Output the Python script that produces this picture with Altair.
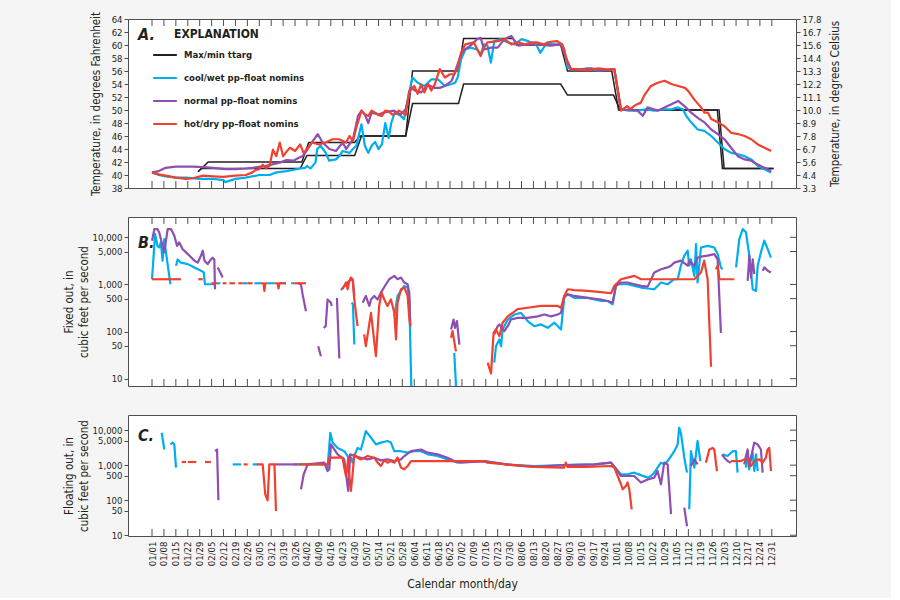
import altair as alt
import pandas as pd

FONT = "DejaVu Sans Condensed, Liberation Sans, sans-serif"
SERIES = ["Max/min ttarg", "cool/wet pp\u2013float nomins", "normal pp\u2013float nomins", "hot/dry pp\u2013float nomins"]
COLORS = ["#231f20", "#00aeef", "#8e4fb0", "#f0402f"]
TICK_DAYS = list(range(0, 365, 7))          # weekly ticks, 01/01 .. 12/31
TEMP_TICKS = list(range(38, 65, 2))
FLOW_TICKS = [10, 50, 100, 500, 1000, 5000, 10000]

# ---------------- Panel A: temperature (day of year, deg F) ----------------
TARGET_MAX = [(27, 40.5), (33, 42), (88, 42), (92, 45), (119, 45), (122, 46), (149, 46), (153, 56),
              (180, 56), (183, 61), (212, 61), (214, 60), (240, 60), (244, 56), (270, 56), (274, 50),
              (332, 50), (335, 41), (365, 41)]
TARGET_MIN = [(27, 40.5), (29, 41), (87, 41), (91, 43), (119, 43), (123, 46), (149, 46), (153, 51),
              (180, 51), (183, 54), (240, 54), (244, 52.3), (271, 52.3), (275, 50), (333, 50),
              (336, 41), (365, 41)]
COOL_A = [(0, 40.4), (4, 40.0), (8, 39.8), (14, 39.6), (20, 39.6), (28, 39.4), (36, 39.4), (42, 39.2),
          (43, 38.9), (49, 39.4), (55, 39.6), (63, 40.0), (69, 40.0), (73, 40.4), (79, 40.6), (87, 41.0),
          (90, 41.1), (91, 41.4), (93, 41.0), (96, 41.9), (97, 44.0), (99, 44.5), (102, 43.4), (104, 42.2),
          (108, 42.4), (110, 42.9), (112, 43.7), (116, 43.4), (118, 44.0), (120, 44.5), (123, 47.8),
          (125, 44.5), (127, 43.4), (129, 44.5), (131, 45.1), (133, 44.0), (135, 44.7), (137, 48.0),
          (139, 45.7), (140.5, 48.0), (142.5, 49.6), (146, 49.1), (148, 48.6), (151, 52.7), (153, 55.0),
          (156, 54.2), (160, 53.7), (164, 54.7), (168, 54.7), (172, 53.7), (176, 54.0), (178, 54.2),
          (179.5, 55.0), (181.5, 57.8), (184, 59.3), (187, 59.6), (191, 59.3), (193, 58.6), (195, 60.1),
          (197, 59.9), (199, 57.3), (201, 60.6), (205, 60.9), (209, 60.4), (213, 60.1), (217, 60.9),
          (221, 60.6), (226, 59.9), (228, 58.8), (232, 60.4), (236, 60.1), (240, 60.1), (242, 59.5),
          (244, 56.5), (246, 56.3), (250, 56.2), (256, 56.4), (262, 56.1), (268, 56.2), (271.5, 56.3),
          (275.4, 50.1), (280, 49.9), (285, 49.9), (290, 50.1), (295, 49.9), (301, 50.1), (305, 50.1),
          (308.8, 50.4), (311.7, 50.1), (313.7, 49.1), (316.6, 48.1), (320.5, 47.0), (324.4, 46.8),
          (328.4, 46.0), (332.3, 45.0), (336.2, 44.0), (340.1, 43.4), (344, 43.2), (348, 42.9),
          (351.9, 42.4), (355.8, 41.4), (359.7, 40.9), (363.6, 40.4)]
NORMAL_A = [(0, 40.4), (4, 40.6), (8, 41.1), (14, 41.3), (20, 41.3), (24, 41.3), (30, 41.2), (36, 41.1),
            (43, 40.9), (49, 40.9), (55, 41.0), (59, 41.1), (67, 41.4), (75, 41.9), (79, 42.3), (83, 42.2),
            (86.5, 42.7), (88.5, 42.9), (91.5, 44.0), (94.4, 45.2), (97.3, 46.3), (100.2, 45.0),
            (104.2, 44.0), (108, 43.7), (112, 45.0), (114, 44.0), (118, 45.5), (121, 49.1), (123, 49.9),
            (125, 49.3), (127, 48.0), (129, 49.6), (133, 49.3), (136, 49.6), (142, 49.9), (146, 49.3),
            (149, 50.1), (152, 53.4), (155, 52.9), (158, 52.7), (162, 53.9), (166, 53.4), (169, 53.4),
            (172, 53.7), (176, 54.5), (178.5, 56.3), (181.5, 58.6), (183.5, 59.3), (187, 59.9), (191, 60.9),
            (193, 61.1), (195, 59.3), (199, 59.6), (203, 59.6), (207, 60.9), (211, 61.4), (215, 59.9),
            (220, 60.1), (226, 60.1), (234, 59.9), (240, 60.1), (244, 57.5), (246, 56.3), (252, 56.2),
            (258, 56.4), (264, 56.1), (271.5, 56.3), (275.4, 50.1), (281, 50.0), (285.2, 49.9),
            (288.2, 49.1), (291, 50.4), (297, 49.9), (301, 50.4), (305, 50.9), (309, 51.4), (312.7, 50.6),
            (316.6, 49.6), (320.5, 48.8), (324.4, 48.1), (328.4, 47.0), (332.3, 46.3), (336.2, 45.5),
            (340.1, 44.2), (344, 42.9), (348, 42.4), (351.9, 42.2), (355.8, 41.6), (359.7, 41.1),
            (363.6, 40.6)]
HOT_A = [(0, 40.4), (4, 40.1), (8, 39.9), (14, 39.6), (20, 39.4), (24, 39.5), (30, 39.9), (36, 39.8),
         (42, 39.7), (49, 39.9), (55, 40.0), (59, 40.4), (61, 40.8), (63, 40.9), (65, 41.6), (67, 41.0),
         (69, 41.4), (71, 43.9), (73, 42.9), (75, 45.0), (77, 42.9), (79, 43.6), (81, 44.2), (84, 43.7),
         (87, 44.7), (89, 43.4), (91, 44.0), (94, 45.0), (98, 44.7), (102, 45.0), (106, 45.5), (110, 45.5),
         (114, 45.0), (116, 46.0), (118, 45.2), (120, 47.3), (123, 49.9), (125, 49.3), (127, 49.1),
         (129, 49.9), (131, 49.6), (133, 49.2), (135, 49.1), (137, 49.9), (139, 49.8), (141, 49.3),
         (143, 49.4), (145, 49.9), (147, 49.6), (149, 49.2), (151, 52.9), (154, 53.7), (156, 52.5),
         (158, 53.9), (160, 52.7), (162, 54.0), (164, 53.0), (166, 53.9), (169, 56.3), (172, 55.0),
         (175, 55.5), (177.5, 55.5), (179.5, 56.5), (181.5, 58.8), (184, 60.1), (189, 60.4), (193, 58.3),
         (195, 59.6), (197, 60.4), (203, 60.6), (207, 60.9), (211, 60.1), (215, 60.4), (219, 60.1),
         (223, 60.4), (226, 60.4), (230, 60.1), (234, 60.5), (238, 60.6), (241, 60.1), (244, 57.3),
         (246, 56.3), (250, 56.3), (256, 56.1), (262, 56.4), (268, 56.2), (271.5, 56.3), (275.4, 49.9),
         (279, 50.6), (281, 50.1), (283, 50.6), (285, 50.9), (287, 51.1), (289, 52.2), (293, 53.7),
         (297, 54.2), (301, 54.5), (305, 54.0), (309, 53.7), (313, 53.4), (315, 52.9), (318.5, 51.6),
         (322.5, 50.4), (324.4, 49.6), (326.4, 49.6), (328.4, 48.6), (332.3, 48.1), (336.2, 47.5),
         (340.1, 46.5), (344, 46.3), (348, 46.0), (351.9, 45.5), (355.8, 44.7), (359.7, 44.2),
         (363.6, 43.7)]

# ---------------- Panel B: fixed outlet flow (cfs); None = gap ----------------
FIXED_COOL = [(0, 1290), (1.8, 11800), (3.2, 6600), (4.2, 6100), (5.2, 7800), (6.2, 3200), (7.2, 9200),
              (8.2, 4800), (10.8, 1010), None,
              (14.1, 2500), (15.1, 3400), (17.0, 2900), (21.0, 2700), (24.9, 2300), (28.8, 1950),
              (30.4, 1800), (31.1, 1010), (36.6, 1010), None,
              (38.6, 1060), (40.1, 1060), None, (53.2, 1060), (56.2, 1060), None, (60.1, 1060), (64.0, 1060), None,
              (67.9, 1060), (71.9, 1060), None, (74.8, 1060), (78.7, 1060), None, (81.7, 1060), (83.5, 1060), None,
              (117.2, 410), (118.0, 380), (118.8, 53), None,
              (142.3, 210), (144.2, 570), (146.2, 730), (148.2, 930), (150.1, 860), (151.1, 480), (152.5, 3), None,
              (177.5, 35), (179.1, 3), None,
              (201.0, 22), (202.0, 49), (204.0, 68), (205.0, 49), (205.9, 111), (208.9, 180), (212.8, 230),
              (216.7, 250), (220.6, 167), (224.5, 130), (228.4, 142), (232.4, 120), (236.3, 154), (240.2, 111),
              (242.1, 520), (244.1, 620), (248.0, 520), (255.9, 520), (263.7, 445), (267.6, 445), (270.5, 380),
              (272.5, 1010), (275.4, 1010), (279.3, 1010), (283.3, 930), (287.2, 860), (291.1, 820), (295.0, 790),
              (298.9, 1100), (302.8, 1010), (306.7, 1290), (308.7, 1290), (310.6, 2500), (312.6, 4100),
              (314.6, 5200), (315.5, 2500), (316.5, 3400), (318.5, 1520), (319.5, 7200), (320.4, 1100),
              (322.4, 6100), (326.3, 6600), (330.2, 6100), (332.2, 4400), (334.1, 2300), (335.1, 2100), None,
              (343.0, 2300), (344.9, 9200), (346.9, 15000), (348.8, 12800), (350.8, 4100), (352.8, 790),
              (354.7, 730), (355.7, 2500), (357.6, 4800), (359.6, 8500), (361.6, 5600), (363.5, 3700)]
FIXED_NORMAL = [(0, 8500), (1.4, 15000), (3.2, 15000), (4.2, 12800), (6.2, 6600), (7.2, 4800), (9.2, 15000),
                (11.2, 15000), (13.1, 10800), (14.7, 6600), (16.0, 7800), (18.0, 5600), (20.0, 4800),
                (21.9, 4100), (24.9, 3200), (26.8, 2900), (28.8, 4100), (29.8, 5200), (30.8, 3200), (32.7, 2700),
                (34.6, 3400), (35.6, 3700), (36.6, 3400), (37.0, 790), None,
                (38.6, 2300), (40.1, 1800), (41.5, 1400), None,
                (86.0, 1060), (87.5, 1000), (88.5, 600), (90.4, 270), None,
                (97.6, 49), (99.2, 30), None,
                (100.8, 120), (102.0, 130), (103.1, 480), (105.1, 410), (105.5, 350), None,
                (108.6, 520), (110.0, 27), None,
                (111.0, 760), (112.9, 930), (114.9, 1100), (116.8, 1290), (118.0, 1200), (118.8, 570), None,
                (123.7, 410), (125.6, 570), (126.6, 445), (127.6, 350), (128.6, 480), (130.5, 570), (132.5, 480),
                (134.4, 670), (137.4, 1010), (139.3, 1290), (142.3, 1520), (144.2, 1290), (146.2, 1400),
                (148.2, 1100), (150.1, 1010), (151.1, 670), (151.7, 130), None,
                (175.6, 111), (177.1, 180), (177.9, 120), (179.1, 167), (180.5, 53), None,
                (201.0, 87), (203.0, 130), (204.0, 142), (206.9, 102), (208.9, 130), (210.8, 180), (214.7, 195),
                (220.6, 195), (226.5, 210), (230.4, 230), (234.3, 210), (238.2, 230), (240.2, 250), (242.1, 570),
                (244.1, 620), (248.0, 570), (255.9, 520), (263.7, 480), (267.6, 445), (270.5, 410), (272.5, 930),
                (275.4, 1100), (279.3, 1100), (283.3, 1010), (287.2, 930), (291.1, 900), (295.0, 1800),
                (298.9, 2100), (302.8, 2300), (304.8, 2500), (306.7, 2900), (310.6, 3200), (314.6, 2500),
                (315.5, 3200), (318.5, 2500), (320.4, 3700), (322.4, 3900), (326.3, 4100), (330.2, 4400),
                (332.2, 3400), (334.1, 94), None,
                (349.8, 1190), (350.8, 4100), (351.8, 1400), (352.8, 3400), (353.7, 1650), None,
                (358.6, 1950), (359.6, 2300), (361.6, 1950), (363.5, 1800)]
FIXED_HOT = [(0, 1290), (17.0, 1290), None,
             (27.2, 1290), (29.8, 1290), None,
             (35.0, 1060), (38.6, 1060), None, (41.5, 1060), (43.7, 1060), None, (45.4, 1060), (48.7, 1060), None,
             (50.7, 1060), (53.2, 1060), None, (56.2, 1060), (59.1, 1060), None,
             (64.0, 1060), (65.5, 1060), (66.0, 730), (66.5, 1060), (67.9, 1060), None,
             (71.9, 1060), (73.8, 1060), (74.3, 820), (74.8, 1060), (78.7, 1060), None,
             (83.5, 1060), (90.4, 1060), None,
             (111.9, 800), (112.9, 930), (113.9, 1100), (114.9, 790), (115.9, 1190), (116.8, 1400),
             (117.8, 1290), (118.8, 480), (120.7, 130), None,
             (124.6, 87), (125.6, 49), (128.6, 250), (131.5, 30), (133.4, 350), (134.8, 670), (136.4, 480),
             (138.3, 350), (140.3, 480), (141.3, 350), (142.3, 250), (143.3, 68), (144.2, 410), (146.2, 790),
             (148.2, 860), (150.1, 570), (151.1, 195), (151.7, 130), None,
             (175.6, 74), (176.5, 102), (178.5, 38), None,
             (197.1, 22), (199.1, 13), (200.6, 94), (202.0, 111), (204.0, 80), (205.9, 154), (208.9, 210),
             (211.8, 250), (214.7, 300), (220.6, 320), (228.4, 350), (234.3, 350), (238.2, 350), (240.2, 320),
             (242.1, 570), (244.1, 790), (248.0, 760), (255.9, 730), (263.7, 690), (269.6, 650), (271.5, 930),
             (275.4, 1290), (279.3, 1400), (283.3, 1520), (287.2, 1290), (291.1, 1290), (306.7, 1290),
             (318.5, 1290), (322.4, 1800), (324.3, 3200), (326.3, 1290), (328.3, 18), None,
             (331.2, 2100), (332.2, 2500), (333.2, 1290), (342.0, 1290)]

# ---------------- Panel C: floating outlet flow (cfs); None = gap ----------------
FLOAT_COOL = [(5.7, 8400), (7.2, 2800), None,
              (10.8, 3900), (12.2, 4400), (13.1, 3900), (14.1, 850), None,
              (47.4, 1050), (52.3, 1050), None, (59.1, 1050), (62.1, 1050), None,
              (83.6, 1050), (101.2, 1050), (103.1, 850), (104.7, 8400), (106.1, 4400), (109.0, 3100),
              (112.9, 2500), (114.9, 1820), (116.8, 1630), (117.8, 1180), (118.8, 1820), (120.7, 3100),
              (122.7, 2800), (125.6, 9400), (128.6, 6100), (131.5, 3900), (134.4, 4400), (138.3, 4900),
              (140.3, 4400), (142.3, 2500), (146.2, 2500), (150.1, 2270), (154.0, 2500), (158.0, 2500),
              (161.9, 2030), (167.7, 1820), (173.6, 1460), (179.5, 1180), (181.4, 1230), (195.0, 1310),
              (208.0, 1050), (224.5, 945), (242.0, 1000), (260.0, 1050), (269.6, 1180), (272.0, 850),
              (275.4, 550), (279.3, 550), (283.2, 610), (287.1, 520), (291.1, 440), (293.0, 490), (295.0, 610),
              (296.9, 850), (298.9, 1180), (300.8, 1050), (302.8, 1310), (304.8, 1820), (306.7, 2500),
              (308.7, 3900), (309.6, 11700), (310.6, 8400), (312.6, 1630), (314.2, 610), None,
              (315.5, 55), (316.5, 2500), (318.5, 850), (320.4, 4900), (322.0, 1310), None,
              (335.1, 2030), (338.0, 1820), (341.0, 2500), (342.9, 2500), (343.9, 610), None,
              (348.8, 850), (349.8, 2500), (350.7, 760), (351.7, 1460), (352.7, 2270), (353.7, 680),
              (354.7, 2030), (355.7, 680)]
FLOAT_NORMAL = [(37.0, 2500), (38.2, 2800), (39.0, 99), None,
                (71.9, 1050), (85.5, 1050), None,
                (87.5, 205), (89.1, 550), (91.4, 1050), (101.2, 1180), (103.1, 680), (104.1, 760), (105.1, 3900),
                (109.0, 2030), (112.9, 1460), (115.2, 183), (116.4, 2030), (118.8, 1820), (122.7, 1630),
                (126.6, 1460), (130.5, 1630), (134.4, 1370), (138.3, 1460), (142.3, 1310), (146.2, 1460),
                (148.2, 1820), (152.1, 2500), (158.0, 2800), (161.9, 2270), (167.7, 2030), (173.6, 1630),
                (177.5, 1310), (181.4, 1180), (195.0, 1310), (208.0, 1050), (224.5, 890), (242.0, 1000),
                (260.0, 1050), (269.6, 1180), (272.0, 850), (275.4, 490), (283.2, 490), (287.1, 320),
                (291.1, 390), (295.0, 440), (296.9, 680), (298.9, 285), (300.8, 1180), (302.8, 1050),
                (304.8, 40), None,
                (312.6, 61), (314.2, 18), None,
                (316.5, 945), (318.5, 1460), (320.4, 1050), None,
                (334.7, 2030), (336.1, 1630), (338.0, 1310), (340.0, 1180), None,
                (347.8, 1050), (348.8, 1820), (349.8, 2800), (350.7, 945), (353.7, 4400), (355.7, 3900),
                (357.6, 2800), (358.6, 610)]
FLOAT_HOT = [(17.4, 1230), (20.0, 1230), None, (21.0, 1230), (26.0, 1230), None, (31.1, 1230), (34.6, 1230), None,
             (53.8, 1050), (56.2, 1050), None,
             (61.6, 1050), (65.0, 1050), (66.5, 147), (67.9, 99), (68.9, 1050), (71.9, 1050), (72.8, 49), None,
             (86.0, 1050), (103.1, 1050), (104.1, 1630), (111.9, 1630), (112.9, 850), (113.9, 490), (114.5, 680),
             (115.2, 1630), (116.2, 320), (116.8, 183), (117.8, 550), (118.8, 2030), (120.7, 1630),
             (122.7, 1460), (126.6, 1820), (130.5, 1630), (132.5, 1180), (134.4, 945), (136.4, 1370),
             (138.3, 1180), (140.3, 1310), (142.3, 1180), (144.2, 1630), (146.2, 850), (148.2, 760),
             (150.1, 945), (152.1, 1310), (158.0, 1310), (181.4, 1310), (195.0, 1310), (197.0, 1180),
             (208.0, 1050), (224.5, 890), (240.0, 850), (242.0, 850), (243.0, 1180), (244.0, 890), (255.0, 890),
             (269.6, 945), (271.5, 850), (275.4, 285), (276.4, 205), (278.3, 255), (279.3, 320), (280.3, 205),
             (281.7, 55), None,
             (325.3, 1180), (327.3, 2800), (329.2, 3100), (330.2, 2800), (331.8, 680), None,
             (340.0, 1310), (345.9, 1310), (347.8, 1460), (349.8, 1460), (351.7, 945), (353.7, 1310),
             (356.6, 1460), (358.6, 1180), (360.5, 1630), (361.5, 2800), (362.5, 3100), (363.5, 680)]


def frame(points, series, tag):
    rows, seg = [], 0
    for p in points:
        if p is None:
            seg += 1
            continue
        rows.append({"day": p[0], "value": p[1], "series": series, "seg": f"{tag}{seg}"})
    return pd.DataFrame(rows)


W = 668
HA, HB, HC = 169, 169, 121
TICK_COLOR = "#4d4d4d"
TEXT_COLOR = "#231f20"
xs = alt.Scale(domain=[-14.1, 378.2], nice=False, zero=False)
cs = alt.Scale(domain=SERIES, range=COLORS)
X_NONE = alt.X("day:Q", scale=xs, axis=None)


def edge_ticks(h, top=True):
    df = pd.DataFrame({"day": TICK_DAYS})
    base = alt.Chart(df).mark_rule(color=TICK_COLOR, strokeWidth=1)
    out = [base.encode(x=X_NONE, y=alt.value(h - 7), y2=alt.value(h))]
    if top:
        out.append(base.encode(x=X_NONE, y=alt.value(0), y2=alt.value(7)))
    return out


def note(text, x, y, size=16, style="italic"):
    return alt.Chart(pd.DataFrame({"t": [text]})).mark_text(
        fontSize=size, fontWeight="bold", fontStyle=style, align="left", baseline="middle", color=TEXT_COLOR
    ).encode(x=alt.value(x), y=alt.value(y), text="t:N")


# ---------- Panel A ----------
ysA = alt.Scale(domain=[38, 64], nice=False, zero=False)
black = pd.concat([frame(TARGET_MAX, SERIES[0], "max"), frame(TARGET_MIN, SERIES[0], "min")])
colA = pd.concat([frame(COOL_A, SERIES[1], "c"), frame(NORMAL_A, SERIES[2], "n"), frame(HOT_A, SERIES[3], "h")])

legend = alt.Legend(
    title=None, orient="none", legendX=24, legendY=23,
    symbolType="stroke", symbolSize=560, symbolStrokeWidth=2, labelFont=FONT, labelFontSize=9.5,
    labelFontWeight="bold", labelColor=TEXT_COLOR, rowPadding=5, padding=0, labelOffset=6,
    direction="vertical",
)
axisA = alt.Axis(values=TEMP_TICKS, format="d", title="Temperature, in degrees Fahrenheit",
                 titleX=-27, titleBaseline="bottom", labelOverlap=False)
axisA_right = alt.Axis(orient="right", values=TEMP_TICKS, labelExpr="format((datum.value - 32) * 5 / 9, '.1f')",
                       title="Temperature, in degrees Celsius", titleAngle=270, titleX=33,
                       titleBaseline="top", labelOverlap=False)

blackA = alt.Chart(black).mark_line(strokeWidth=1.5, clip=True).encode(
    x=X_NONE, y=alt.Y("value:Q", scale=ysA, axis=axisA),
    color=alt.Color("series:N", scale=cs, legend=legend), detail="seg:N")
linesA = alt.Chart(colA).mark_line(strokeWidth=2.2, clip=True, strokeJoin="round").encode(
    x=X_NONE, y=alt.Y("value:Q", scale=ysA, axis=None),
    color=alt.Color("series:N", scale=cs, legend=legend), detail="seg:N")
rightA = alt.Chart(black).mark_line(opacity=0).encode(
    x=X_NONE, y=alt.Y("value:Q", scale=ysA, axis=axisA_right), detail="seg:N")

panelA = alt.layer(
    blackA, linesA, rightA, *edge_ticks(HA), note("A.", 10, 16), note("EXPLANATION", 46, 15, 12, "normal")
).resolve_axis(x="independent", y="independent").properties(width=W, height=HA)


# ---------- Panels B, C ----------
def flow_panel(cool, normal, hot, title, label, label_y, h, domain, x_axis=None, top=True):
    ys = alt.Scale(type="log", domain=domain, nice=False)
    df = pd.concat([frame(cool, SERIES[1], "c"), frame(normal, SERIES[2], "n"), frame(hot, SERIES[3], "h")])
    yaxis = alt.Axis(values=FLOW_TICKS, format=",d", title=title, titleX=-54, titleBaseline="bottom",
                     labelOverlap=False, titleLineHeight=15)
    xenc = alt.X("day:Q", scale=xs, axis=x_axis) if x_axis is not None else X_NONE
    lines = alt.Chart(df).mark_line(strokeWidth=2.2, clip=True, strokeJoin="round").encode(
        x=xenc, y=alt.Y("value:Q", scale=ys, axis=yaxis),
        color=alt.Color("series:N", scale=cs, legend=None), detail="seg:N")
    rticks = alt.Chart(pd.DataFrame({"value": FLOW_TICKS})).mark_rule(color=TICK_COLOR).encode(
        y=alt.Y("value:Q", scale=ys, axis=None), x=alt.value(W - 6), x2=alt.value(W))
    return alt.layer(lines, rticks, *edge_ticks(h, top), note(label, 10, label_y)).resolve_axis(
        x="independent", y="independent").properties(width=W, height=h)


panelB = flow_panel(FIXED_COOL, FIXED_NORMAL, FIXED_HOT, ["Fixed out, in", "cubic feet per second"],
                    "B.", 26, HB, [7, 27000])

x_axis_C = alt.Axis(values=TICK_DAYS, labelExpr="timeFormat(datetime(2021, 0, 1 + datum.value), '%m/%d')",
                    labelAngle=270, labelAlign="right", labelBaseline="middle", ticks=False, tickSize=0,
                    labelPadding=5, labelOverlap=False, labelFlush=False, title="Calendar month/day",
                    titleY=42, titleBaseline="top", titleFontSize=12)
panelC = flow_panel(FLOAT_COOL, FLOAT_NORMAL, FLOAT_HOT, ["Floating out, in", "cubic feet per second"],
                    "C.", 21, HC, [9.5, 27000], x_axis=x_axis_C, top=False)

chart = alt.vconcat(panelA, panelB, panelC, spacing=29, bounds="flush").resolve_scale(
    y="independent", color="independent"
).properties(
    padding={"left": 62, "top": 10, "right": 50, "bottom": 8}
).configure(
    font=FONT, background="#f5f5f5"
).configure_view(
    stroke=TICK_COLOR, strokeWidth=1, fill="white"
).configure_axis(
    labelFont=FONT, titleFont=FONT, labelFontSize=9.5, titleFontSize=11.5, labelColor=TEXT_COLOR,
    titleColor=TEXT_COLOR, titleFontWeight="normal", tickColor=TICK_COLOR, domain=False, grid=False,
    tickSize=4, labelPadding=2
)

chart.save("out.html", embed_options={"renderer": "svg", "actions": False})
